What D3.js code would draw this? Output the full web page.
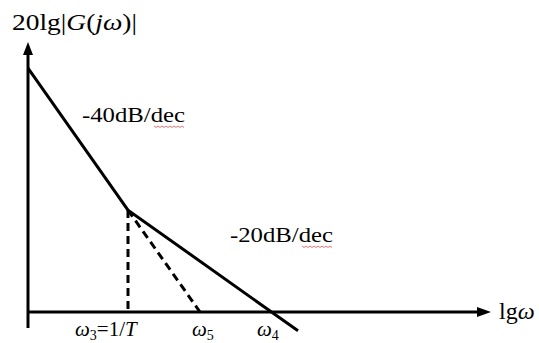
<!DOCTYPE html>
<html>
<head>
<meta charset="utf-8">
<script src="https://cdn.jsdelivr.net/npm/d3@7"></script>
<style>
  body { margin: 0; background: #fff; }
  svg { display: block; font-family: "Liberation Serif", "DejaVu Serif", serif; }
</style>
</head>
<body>
<div id="chart"></div>
<script>
// asymptotic magnitude plot, values in decades (lg w) and dB
var magLg = [0, 1.0, 2.7];
var magDb = [68.7, 28.7, -5.3];
var dashLg = [1.0, 1.72];   // -40dB/dec continued down to w5
var dashDb = [28.7, 0];
var freqLg = [1.0, 1.72, 2.435];
var freqNames = ["3", "5", "4"];
var slopeLabels = ["-40dB/dec", "-20dB/dec"];

var svgWidth = 539;
var svgHeight = 343;

var svg = d3.select("#chart")
  .append("svg")
  .attr("width", svgWidth)
  .attr("height", svgHeight);

// 100px per decade, 71px per 20dB
var x = d3.scaleLinear().domain([0, 1]).range([28, 128]);
var y = d3.scaleLinear().domain([0, 20]).range([312, 241]);

// axes
svg.append("line")
  .attr("x1", x(0)).attr("x2", x(0))
  .attr("y1", y(-4.5)).attr("y2", 52)
  .attr("stroke", "#000").attr("stroke-width", 3);
svg.append("path")
  .attr("d", `M${x(0)},42 L${x(0) - 5},55 L${x(0) + 5},55 Z`)
  .attr("fill", "#000");

svg.append("line")
  .attr("x1", x(0)).attr("x2", 480)
  .attr("y1", y(0)).attr("y2", y(0))
  .attr("stroke", "#000").attr("stroke-width", 3);
svg.append("path")
  .attr("d", `M491,${y(0)} L477,${y(0) - 5} L477,${y(0) + 5} Z`)
  .attr("fill", "#000");

// magnitude line
var line = d3.line()
  .x((d, i) => x(magLg[i]))
  .y(d => y(d));

svg.append("path")
  .datum(magDb)
  .attr("d", line)
  .attr("fill", "none")
  .attr("stroke", "#000")
  .attr("stroke-width", 3);

// dashed helpers
svg.append("line")
  .attr("x1", x(freqLg[0])).attr("x2", x(freqLg[0]))
  .attr("y1", y(magDb[1])).attr("y2", y(0))
  .attr("stroke", "#000").attr("stroke-width", 3)
  .attr("stroke-dasharray", "8,5");

svg.append("path")
  .attr("d", d3.line().x((d, i) => x(dashLg[i])).y(d => y(d))(dashDb))
  .attr("fill", "none")
  .attr("stroke", "#000").attr("stroke-width", 3)
  .attr("stroke-dasharray", "8,5");

// y label
var yl = svg.append("text")
  .attr("x", 12).attr("y", 30)
  .attr("font-size", 23)
  .attr("textLength", 125)
  .attr("lengthAdjust", "spacingAndGlyphs");
yl.append("tspan").text("20lg|");
yl.append("tspan").attr("font-style", "italic").text("G");
yl.append("tspan").text("(");
yl.append("tspan").attr("font-style", "italic").text("jω");
yl.append("tspan").text(")|");

// x label
var xl = svg.append("text")
  .attr("x", 499).attr("y", 319)
  .attr("font-size", 24);
xl.append("tspan").text("lg");
xl.append("tspan").attr("font-style", "italic").text("ω");

// slope labels
var slopePos = [[82, 122], [230, 242]];
slopeLabels.forEach(function(s, i) {
  svg.append("text")
    .attr("x", slopePos[i][0]).attr("y", slopePos[i][1])
    .attr("font-size", 21)
    .attr("textLength", 103)
    .attr("lengthAdjust", "spacingAndGlyphs")
    .text(s);
  // spell-check squiggle under "dec"
  var sx = slopePos[i][0] + 72, sy = slopePos[i][1] + 4;
  var pts = d3.range(0, 32, 2).map((d, k) => [sx + d, sy + (k % 2 ? 1.5 : 0)]);
  svg.append("path")
    .attr("d", d3.line()(pts))
    .attr("fill", "none")
    .attr("stroke", "#e05050")
    .attr("stroke-width", 0.8);
});

// frequency labels
var freqX = [75, 192, 257];
freqNames.forEach(function(n, i) {
  var t = svg.append("text")
    .attr("x", freqX[i]).attr("y", 336)
    .attr("font-size", 21);
  t.append("tspan").attr("font-style", "italic").text("ω");
  t.append("tspan").attr("font-size", 14).attr("dy", 4).text(n);
  if (i === 0) {
    t.append("tspan").attr("dy", -4).text("=1/");
    t.append("tspan").attr("font-style", "italic").text("T");
  }
});
</script>
</body>
</html>
